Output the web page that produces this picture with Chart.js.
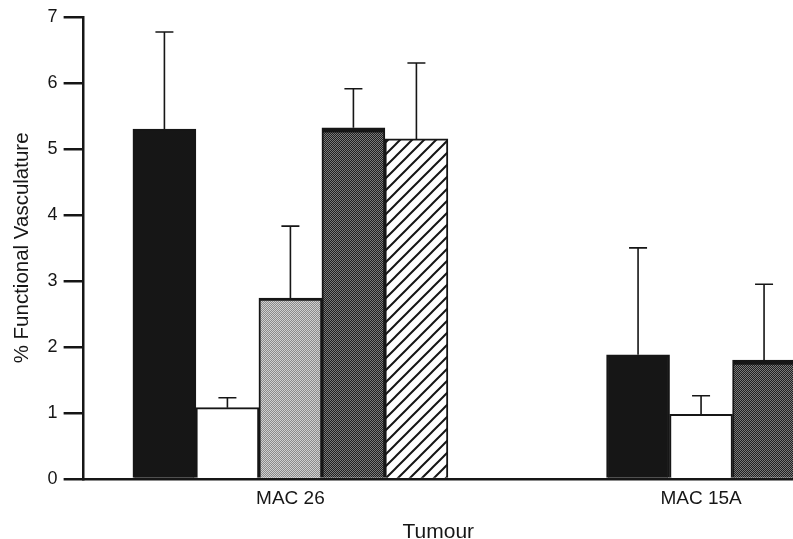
<!DOCTYPE html>
<html lang="en">
<head>
<meta charset="UTF-8">
<title>% Functional Vasculature by Tumour</title>
<script src="https://cdn.jsdelivr.net/npm/chart.js@4.4.1/dist/chart.umd.min.js"></script>
<style>
  html, body { margin: 0; padding: 0; background: #fff; overflow: hidden; }
  #wrap { position: relative; width: 793px; height: 539px; }
</style>
</head>
<body>
<div id="wrap"><canvas id="chart" width="793" height="539"></canvas></div>
<script>
// values (mean and upper error)
const tumours = ['MAC 26', 'MAC 15A'];
const blackBar = [5.30, 1.88];
const blackErr = [1.47, 1.62];
const whiteBar = [1.08, 0.98];
const whiteErr = [0.15, 0.28];
const lightStipple = [2.74, null];
const lightErr = [1.09, null];
const darkStipple = [5.32, 1.80];
const darkErr = [0.59, 1.15];
const hatched = [5.15, null];
const hatchedErr = [1.15, null];
const yTicks = [0, 1, 2, 3, 4, 5, 6, 7];

const ink = '#161616';
const font = 'Liberation Sans, Arial, Helvetica, sans-serif';

const canvas = document.getElementById('chart');
const ctx = canvas.getContext('2d');

// small tiles for the printed screens
function stipple(bg, fg) {
    const c = document.createElement('canvas');
    c.width = 4; c.height = 4;
    const g = c.getContext('2d');
    g.fillStyle = bg;
    g.fillRect(0, 0, 4, 4);
    g.fillStyle = fg;
    for (let y = 0; y < 4; y++)
        for (let x = 0; x < 4; x++)
            if ((x + y) % 2 === 0) g.fillRect(x, y, 1, 1);
    return ctx.createPattern(c, 'repeat');
}
function hatch() {
    const c = document.createElement('canvas');
    c.width = 12; c.height = 12;
    const g = c.getContext('2d');
    g.fillStyle = '#fff';
    g.fillRect(0, 0, 12, 12);
    g.strokeStyle = ink;
    g.lineWidth = 2;
    g.beginPath();
    g.moveTo(-3, 15); g.lineTo(15, -3);
    g.moveTo(-3, 3); g.lineTo(3, -3);
    g.moveTo(9, 15); g.lineTo(15, 9);
    g.stroke();
    return ctx.createPattern(c, 'repeat');
}

const errorBars = {
    id: 'errorBars',
    afterDatasetsDraw(chart) {
        const c = chart.ctx, y = chart.scales.y;
        c.save();
        c.strokeStyle = ink;
        c.lineWidth = 1.6;
        chart.data.datasets.forEach((ds, i) => {
            chart.getDatasetMeta(i).data.forEach((bar, j) => {
                const v = ds.data[j], e = ds.errors[j];
                if (v == null || e == null) return;
                const top = y.getPixelForValue(v + e);
                c.beginPath();
                c.moveTo(bar.x, bar.y);
                c.lineTo(bar.x, top);
                c.moveTo(bar.x - 9, top);
                c.lineTo(bar.x + 9, top);
                c.stroke();
            });
        });
        c.restore();
    }
};

function set(data, errors, fill, border) {
    return {
        data: data,
        errors: errors,
        backgroundColor: fill,
        borderColor: ink,
        borderWidth: border || 2,
        barThickness: 63,
        skipNull: true
    };
}

new Chart(ctx, {
    type: 'bar',
    data: {
        labels: tumours.map((t, i) => i + 1),
        datasets: [
            set(blackBar, blackErr, ink),
            set(whiteBar, whiteErr, '#fff'),
            set(lightStipple, lightErr, stipple('#8a8a8a', '#d0d0d0'), {top: 3, left: 2, right: 2, bottom: 0}),
            set(darkStipple, darkErr, stipple('#202020', '#7a7a7a'), {top: 5, left: 2, right: 2, bottom: 0}),
            set(hatched, hatchedErr, hatch())
        ]
    },
    options: {
        responsive: false,
        animation: false,
        layout: { padding: { top: 10, left: 10, right: 0, bottom: -6 } },
        plugins: { legend: { display: false }, tooltip: { enabled: false } },
        scales: {
            x: {
                type: 'linear',
                offset: false,
                min: 0.4964,
                max: 2.2239,
                afterBuildTicks: s => { s.ticks = tumours.map((t, i) => ({ value: i + 1 })); },
                ticks: {
                    callback: v => tumours[v - 1] || '',
                    color: ink,
                    font: { family: font, size: 19 },
                    padding: 8,
                    maxRotation: 0,
                    autoSkip: false
                },
                grid: { display: false, drawTicks: false },
                border: { color: ink, width: 2.5 },
                title: {
                    display: true,
                    text: 'Tumour',
                    color: ink,
                    font: { family: font, size: 21 },
                    padding: { top: 2, bottom: 0 }
                }
            },
            y: {
                min: 0,
                max: 7,
                afterBuildTicks: s => { s.ticks = yTicks.map(v => ({ value: v })); },
                ticks: {
                    color: ink,
                    font: { family: font, size: 18 },
                    padding: 6
                },
                grid: { drawOnChartArea: false, tickLength: 20, color: ink, lineWidth: 2.5 },
                border: { color: ink, width: 2.5 },
                title: {
                    display: true,
                    text: '% Functional Vasculature',
                    color: ink,
                    font: { family: font, size: 20.5 },
                    padding: { top: 0, bottom: 7 }
                }
            }
        }
    },
    plugins: [errorBars]
});
</script>
</body>
</html>
